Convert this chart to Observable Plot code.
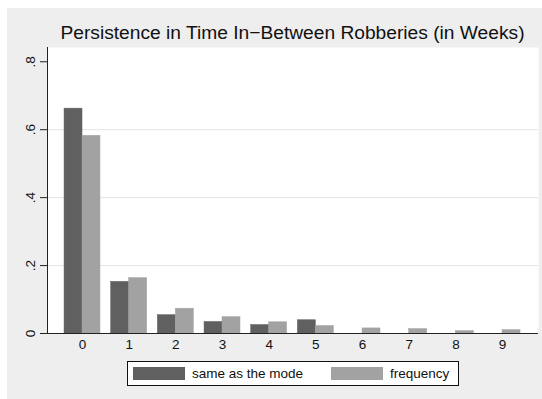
<!DOCTYPE html>
<html><head><meta charset="utf-8">
<script src="https://cdn.jsdelivr.net/npm/d3@7"></script>
<script src="https://cdn.jsdelivr.net/npm/@observablehq/plot@0.6"></script>
<style>
body{margin:0;background:#fff;font-family:"Liberation Sans",Arial,sans-serif;}
#outer{position:absolute;left:7px;top:8px;width:535px;height:391px;background:#eeeeee;overflow:hidden;}
#title{position:absolute;left:40px;width:491px;top:15px;font-size:19.2px;line-height:19px;text-align:center;color:#111;white-space:nowrap;}
#chart{position:absolute;left:0;top:0;}
#legend{position:absolute;left:120px;top:353px;width:330px;height:23px;border:1px solid #111;background:#fff;}
.sw{position:absolute;top:5px;width:52px;height:13px;}
.lt{position:absolute;top:0;font-size:13.5px;line-height:23px;color:#111;white-space:nowrap;}
</style>
</head><body>
<div id="outer">
  <div id="chart"></div>
  <div id="title"></div>
  <div id="legend"></div>
</div>
<script>
const titleText = "Persistence in Time In\u2212Between Robberies (in Weeks)";
const weeks = [0, 1, 2, 3, 4, 5, 6, 7, 8, 9];
const sameAsMode = [0.662, 0.152, 0.054, 0.034, 0.025, 0.039, 0, 0, 0, 0];
const frequency = [0.582, 0.163, 0.073, 0.048, 0.033, 0.022, 0.015, 0.013, 0.007, 0.010];
const seriesNames = ["same as the mode", "frequency"];
const seriesColors = ["#606060", "#a2a2a2"];
const yTicks = [0, 0.2, 0.4, 0.6, 0.8];
const yTickLabels = ["0", ".2", ".4", ".6", ".8"];
const yGrid = [0.2, 0.4, 0.6];

const half = 0.385;
const rows = [];
weeks.forEach((w, i) => {
  rows.push({week: w, series: seriesNames[0], value: sameAsMode[i], x1: w - half, x2: w});
  rows.push({week: w, series: seriesNames[1], value: frequency[i], x1: w, x2: w + half});
});

document.getElementById("title").textContent = titleText;

const chart = Plot.plot({
  width: 535,
  height: 350,
  marginTop: 39,
  marginLeft: 40,
  marginRight: 4,
  marginBottom: 25,
  style: {background: "transparent", fontFamily: "'Liberation Sans', Arial, sans-serif", fontSize: "13.5px", color: "#111", overflow: "visible"},
  x: {domain: [-0.75, 9.77], label: null},
  y: {domain: [0, 0.842], label: null},
  color: {domain: seriesNames, range: seriesColors},
  marks: [
    Plot.frame({fill: "white", stroke: null}),
    Plot.gridY(yGrid, {stroke: "#e4e4e4", strokeOpacity: 1}),
    Plot.rectY(rows, {x1: "x1", x2: "x2", y1: 0, y2: "value", fill: "series", stroke: "series", strokeWidth: 0.5}),
    Plot.ruleY([0], {stroke: "#222"}),
    Plot.frame({anchor: "left", stroke: "#222"}),
    Plot.axisY({ticks: yTicks, tickSize: 7, tickFormat: () => "", stroke: "#222", label: null}),
    Plot.text(yTicks, {y: d => d, text: (d, i) => yTickLabels[i], frameAnchor: "left", textAnchor: "middle", lineAnchor: "middle", dx: -17, rotate: -90, fontSize: 13.5, fill: "#111"}),
    Plot.axisX({ticks: weeks, tickSize: 0, tickPadding: 5.5, fontSize: 13.5, tickFormat: d => String(d), label: null, fill: "#111"})
  ]
});
document.getElementById("chart").appendChild(chart);

const legend = document.getElementById("legend");
const swLeft = [5, 203], txtLeft = [64, 262];
seriesNames.forEach((name, i) => {
  const sw = document.createElement("div");
  sw.className = "sw"; sw.style.left = swLeft[i] + "px"; sw.style.background = seriesColors[i];
  legend.appendChild(sw);
  const t = document.createElement("div");
  t.className = "lt"; t.style.left = txtLeft[i] + "px"; t.textContent = name;
  legend.appendChild(t);
});
</script>
</body></html>
